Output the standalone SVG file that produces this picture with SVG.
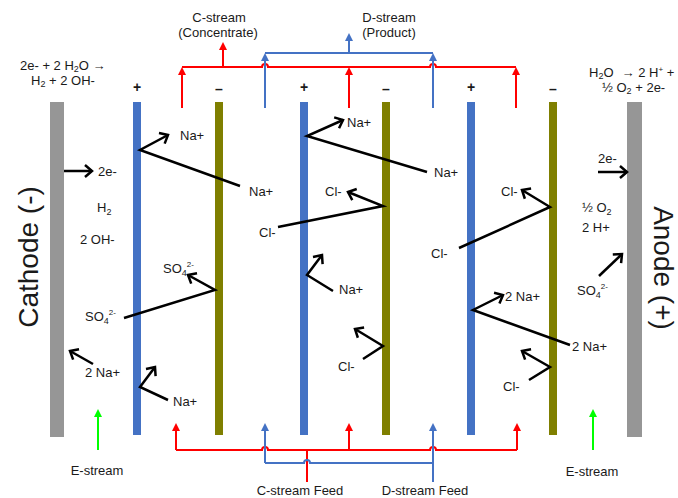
<svg xmlns="http://www.w3.org/2000/svg" width="678" height="498" viewBox="0 0 678 498">
<style>
text{font-family:"Liberation Sans",Arial,sans-serif;font-size:13px;fill:#1a1a1a}
.sub{font-size:9px}
.sup{font-size:8px}
.big{font-size:28px}
.sign{font-size:14px;font-weight:bold}
.mid{text-anchor:middle}
.ion{fill:none;stroke:#000;stroke-width:2.5;stroke-linejoin:miter;marker-end:url(#oa)}
.red{fill:none;stroke:#ff0000;stroke-width:2}
.blue{fill:none;stroke:#4472c4;stroke-width:2}
.green{fill:none;stroke:#00ff00;stroke-width:2}
.ra{marker-end:url(#ar)}
.ba{marker-end:url(#ab)}
.ga{marker-end:url(#ag)}
.cat{fill:#4472c4}
.ani{fill:#7f7f00}
.elec{fill:#969696}
</style>
<defs>
<marker id="oa" viewBox="0 0 12 12" refX="10" refY="6" markerWidth="12" markerHeight="12" markerUnits="userSpaceOnUse" orient="auto" overflow="visible">
<path d="M3,0 L10,6 L3,12" fill="none" stroke="#000" stroke-width="2.5"/>
</marker>
<marker id="ar" viewBox="0 0 10 10" refX="6.25" refY="5" markerWidth="8" markerHeight="8" markerUnits="userSpaceOnUse" orient="auto">
<path d="M0,0 L10,5 L0,10 z" fill="#ff0000"/>
</marker>
<marker id="ab" viewBox="0 0 10 10" refX="6.25" refY="5" markerWidth="8" markerHeight="8" markerUnits="userSpaceOnUse" orient="auto">
<path d="M0,0 L10,5 L0,10 z" fill="#4472c4"/>
</marker>
<marker id="ag" viewBox="0 0 10 10" refX="6.25" refY="5" markerWidth="8" markerHeight="8" markerUnits="userSpaceOnUse" orient="auto">
<path d="M0,0 L10,5 L0,10 z" fill="#00ff00"/>
</marker>
</defs>

<g id="cathode">
<rect class="elec" x="50" y="102" width="14" height="335"/>
<text class="big mid" transform="translate(38,257) rotate(-90)">Cathode (-)</text>
<text x="20" y="70">2e- + 2 H<tspan class="sub" dy="2">2</tspan><tspan dy="-2">O →</tspan></text>
<text x="31" y="85">H<tspan class="sub" dy="2">2</tspan><tspan dy="-2"> + 2 OH-</tspan></text>
</g>
<g id="anode">
<rect class="elec" x="627" y="102" width="15" height="335"/>
<text class="big mid" transform="translate(654,268) rotate(90)">Anode (+)</text>
<text x="589" y="77">H<tspan class="sub" dy="2">2</tspan><tspan dy="-2">O</tspan><tspan dx="8">→ 2 H</tspan><tspan class="sup" dy="-5">+</tspan><tspan dy="5"> +</tspan></text>
<text x="602" y="92">½ O<tspan class="sub" dy="2">2</tspan><tspan dy="-2"> + 2e-</tspan></text>
</g>
<g id="cem1"><rect class="cat" x="133" y="102" width="8" height="333"/><text class="sign mid" x="137" y="92">+</text></g>
<g id="aem1"><rect class="ani" x="215" y="102" width="8" height="333"/><text class="sign mid" x="219" y="94">–</text></g>
<g id="cem2"><rect class="cat" x="300" y="102" width="8" height="333"/><text class="sign mid" x="304" y="92">+</text></g>
<g id="aem2"><rect class="ani" x="382" y="102" width="8" height="333"/><text class="sign mid" x="386" y="94">–</text></g>
<g id="cem3"><rect class="cat" x="467" y="102" width="8" height="333"/><text class="sign mid" x="471" y="92">+</text></g>
<g id="aem3"><rect class="ani" x="549" y="102" width="8" height="333"/><text class="sign mid" x="553" y="94">–</text></g>

<g id="connectors">
<!-- top outlet manifolds -->
<path class="red" d="M182,67 H262 A3,3 0 0 1 268,67 H430 A3,3 0 0 1 436,67 H516"/>
<line class="red ra" x1="182" y1="108" x2="182" y2="70"/>
<line class="red ra" x1="349" y1="108" x2="349" y2="70"/>
<line class="red ra" x1="516" y1="108" x2="516" y2="70"/>
<line class="red ra" x1="223" y1="67" x2="223" y2="45"/>
<path class="blue" d="M265,53 H433"/>
<line class="blue ba" x1="265" y1="108" x2="265" y2="56"/>
<line class="blue ba" x1="433" y1="108" x2="433" y2="56"/>
<line class="blue ba" x1="349" y1="53" x2="349" y2="36"/>
<!-- bottom feed manifolds -->
<path class="red" d="M176,450 H262 A3,3 0 0 1 268,450 H430 A3,3 0 0 1 436,450 H517"/>
<line class="red ra" x1="176" y1="450" x2="176" y2="426"/>
<line class="red ra" x1="349" y1="450" x2="349" y2="426"/>
<line class="red ra" x1="517" y1="450" x2="517" y2="426"/>
<line class="red" x1="307" y1="450" x2="307" y2="482"/>
<path class="blue" d="M265,463 H304 A3,3 0 0 1 310,463 H433"/>
<line class="blue ba" x1="265" y1="463" x2="265" y2="426"/>
<line class="blue ba" x1="433" y1="482" x2="433" y2="426"/>
<line class="green ga" x1="98" y1="450" x2="98" y2="412"/>
<line class="green ga" x1="593" y1="450" x2="593" y2="412"/>
<!-- ion transport -->
<polyline class="ion" points="64,171 92,171"/>
<polyline class="ion" points="240,186 140,150 168,135"/>
<polyline class="ion" points="124,318 215,290 188,275"/>
<polyline class="ion" points="93,364 70,351"/>
<polyline class="ion" points="168,400 140,387 155,367"/>
<polyline class="ion" points="278,227 383,206 348,192"/>
<polyline class="ion" points="427,172 307,136 343,120"/>
<polyline class="ion" points="333,291 307,275 322,255"/>
<polyline class="ion" points="363,359 383,346 355,329"/>
<polyline class="ion" points="459,248 550,207 522,190"/>
<polyline class="ion" points="570,345 473,310 503,295"/>
<polyline class="ion" points="529,380 550,367 522,351"/>
<polyline class="ion" points="598,172 627,172"/>
<polyline class="ion" points="599,276 622,254"/>
</g>

<g id="labels">
<text class="mid" x="219" y="22">C-stream</text>
<text class="mid" x="218" y="37">(Concentrate)</text>
<text class="mid" x="389" y="22">D-stream</text>
<text class="mid" x="389" y="37">(Product)</text>
<text class="mid" x="300" y="495">C-stream Feed</text>
<text class="mid" x="425" y="495">D-stream Feed</text>
<text class="mid" x="97" y="475">E-stream</text>
<text class="mid" x="592" y="476">E-stream</text>
<text x="98" y="176">2e-</text>
<text x="97" y="212">H<tspan class="sub" dy="3">2</tspan></text>
<text x="80" y="244">2 OH-</text>
<text x="180" y="140">Na+</text>
<text x="249" y="196">Na+</text>
<text x="163" y="273">SO<tspan class="sub" dy="3">4</tspan><tspan class="sup" dy="-9">2-</tspan></text>
<text x="85" y="321">SO<tspan class="sub" dy="3">4</tspan><tspan class="sup" dy="-9">2-</tspan></text>
<text x="85" y="377">2 Na+</text>
<text x="173" y="406">Na+</text>
<text x="259" y="237">Cl-</text>
<text x="325" y="196">Cl-</text>
<text x="347" y="127">Na+</text>
<text x="434" y="177">Na+</text>
<text x="339" y="294">Na+</text>
<text x="338" y="371">Cl-</text>
<text x="501" y="196">Cl-</text>
<text x="431" y="258">Cl-</text>
<text x="505" y="301">2 Na+</text>
<text x="572" y="351">2 Na+</text>
<text x="503" y="391">Cl-</text>
<text x="598" y="163">2e-</text>
<text x="582" y="212">½ O<tspan class="sub" dy="3">2</tspan></text>
<text x="582" y="232">2 H+</text>
<text x="577" y="295">SO<tspan class="sub" dy="3">4</tspan><tspan class="sup" dy="-9">2-</tspan></text>
</g>
</svg>
